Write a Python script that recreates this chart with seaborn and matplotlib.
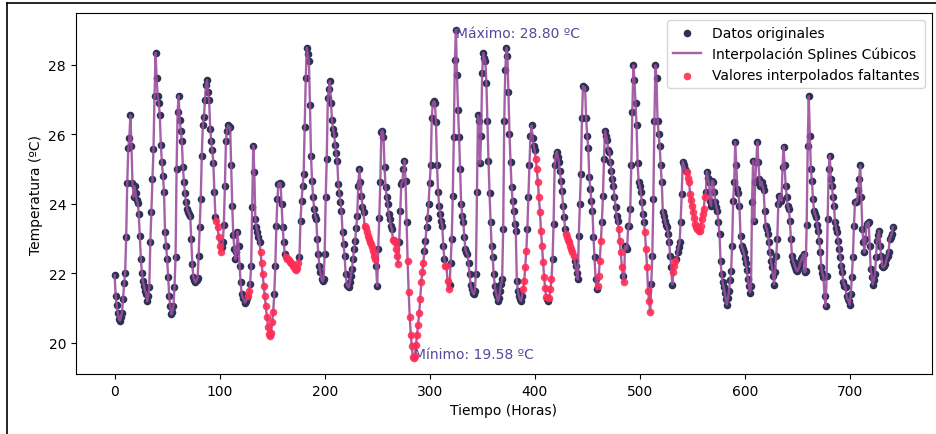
import numpy as np
import pandas as pd
import matplotlib
matplotlib.use("Agg")
import matplotlib.pyplot as plt
from matplotlib.lines import Line2D
import seaborn as sns

# Hourly temperature (ºC), one row per day
temperatura = [
    21.95, 21.34, 21.08, 20.87, 20.70, 20.64, 20.75, 20.87, 21.25, 21.71, 22.00, 23.04, 24.60, 25.60, 25.90, 26.54, 25.67, 24.60, 24.20, 24.50, 24.30, 24.10, 24.03, 23.70,
    23.07, 22.40, 22.00, 21.77, 21.63, 21.50, 21.42, 21.20, 21.35, 21.60, 22.90, 23.77, 24.70, 25.56, 27.10, 28.33, 27.60, 27.10, 26.90, 26.54, 25.70, 25.20, 24.80, 24.35,
    23.20, 22.80, 22.40, 21.90, 21.34, 21.05, 20.82, 20.90, 21.05, 21.60, 22.46, 25.00, 26.65, 27.10, 26.40, 26.10, 25.80, 25.07, 24.63, 24.32, 24.05, 23.85, 23.77, 23.70,
    23.65, 22.98, 22.26, 21.89, 21.80, 21.74, 21.80, 21.86, 22.50, 23.33, 24.14, 25.38, 26.25, 26.48, 26.97, 27.40, 27.55, 27.20, 26.97, 26.16, 25.80, 25.53, 25.18, 24.35,
    23.62, 23.50, 23.33, 23.04, 22.78, 22.60, 22.75, 22.90, 23.40, 24.50, 25.80, 26.10, 26.25, 26.20, 26.20, 25.10, 23.94, 23.10, 22.70, 22.40, 22.60, 23.20, 22.78, 22.20,
    21.74, 21.40, 21.30, 21.25, 21.16, 21.20, 21.30, 21.34, 21.48, 21.70, 22.20, 23.90, 25.67, 24.90, 23.56, 23.33, 23.20, 23.05, 22.90, 22.60, 22.30, 21.97, 21.63, 21.34,
    21.05, 20.76, 20.47, 20.26, 20.20, 20.30, 20.60, 20.90, 21.40, 22.20, 23.36, 24.14, 24.58, 24.60, 24.58, 24.00, 23.33, 22.90, 22.55, 22.46, 22.42, 22.40, 22.37, 22.33,
    22.30, 22.27, 22.22, 22.17, 22.12, 22.10, 22.15, 22.30, 22.46, 23.50, 24.08, 24.50, 24.86, 26.20, 27.60, 28.48, 28.30, 28.10, 26.84, 25.38, 24.66, 24.20, 23.85, 23.65,
    23.56, 22.98, 22.55, 22.20, 22.03, 21.83, 21.77, 21.85, 22.55, 24.20, 25.30, 27.03, 27.30, 27.52, 26.90, 26.40, 26.16, 26.00, 25.70, 25.45, 25.24, 24.58, 24.30, 24.05,
    23.80, 23.20, 22.84, 22.50, 21.97, 21.68, 21.63, 21.60, 21.75, 21.92, 22.12, 22.40, 22.70, 22.93, 23.30, 23.65, 24.52, 25.00, 24.63, 24.23, 23.91, 23.76, 23.36, 23.30,
    23.20, 23.07, 22.98, 22.90, 22.84, 22.75, 22.64, 22.50, 22.40, 22.20, 21.63, 22.70, 23.60, 24.63, 26.07, 26.10, 25.93, 25.07, 24.49, 24.20, 24.00, 23.70, 23.56, 23.36,
    23.27, 22.96, 22.96, 22.90, 22.70, 22.50, 22.27, 22.90, 23.80, 24.58, 24.63, 25.00, 25.24, 24.66, 23.48, 22.35, 21.46, 20.76, 20.24, 19.90, 19.60, 19.58, 19.62, 19.95,
    20.24, 20.53, 20.87, 21.25, 21.74, 22.03, 22.30, 22.64, 22.93, 23.33, 23.60, 24.00, 24.60, 25.10, 26.45, 26.90, 26.94, 26.90, 26.34, 25.10, 24.35, 23.94, 23.71, 23.50,
    23.36, 22.78, 22.40, 22.20, 22.20, 21.77, 21.54, 21.68, 22.30, 22.98, 24.23, 25.93, 28.13, 29.00, 27.70, 26.70, 25.93, 25.00, 24.00, 23.65, 23.48, 23.04, 22.70, 22.60,
    22.55, 22.30, 21.97, 21.68, 21.54, 21.45, 21.40, 21.50, 21.97, 24.35, 26.54, 26.37, 25.16, 25.96, 27.76, 28.33, 28.20, 28.10, 27.47, 26.37, 25.24, 24.30, 23.48, 22.78,
    22.46, 21.97, 21.63, 21.45, 21.34, 21.20, 21.30, 21.50, 21.70, 21.83, 23.27, 26.37, 27.84, 28.48, 28.25, 27.20, 26.00, 25.20, 24.49, 24.08, 23.80, 23.42, 23.22, 21.77,
    21.50, 21.34, 21.25, 21.20, 21.35, 21.54, 21.77, 22.18, 22.64, 23.27, 24.20, 25.10, 25.96, 26.25, 25.90, 25.67, 25.53, 25.30, 25.00, 24.63, 24.20, 23.77, 23.22, 22.78,
    22.32, 21.89, 21.57, 21.31, 21.25, 21.20, 21.30, 21.54, 21.83, 22.40, 23.42, 25.10, 25.38, 25.50, 25.35, 25.20, 24.95, 24.66, 24.37, 23.94, 23.62, 23.27, 23.13, 23.04,
    22.95, 22.90, 22.80, 22.70, 22.60, 22.50, 22.35, 22.20, 22.00, 21.83, 23.07, 24.00, 24.86, 26.45, 27.38, 27.35, 27.32, 26.45, 25.96, 25.60, 24.78, 24.43, 24.08, 23.80,
    23.04, 22.46, 21.83, 21.54, 21.63, 21.92, 22.35, 22.93, 23.48, 24.23, 25.30, 26.10, 25.96, 25.82, 25.53, 25.50, 25.20, 24.95, 24.72, 24.52, 24.20, 23.91, 23.65, 23.50,
    23.27, 22.93, 22.60, 22.18, 21.92, 21.74, 22.78, 22.75, 22.70, 23.36, 23.35, 23.85, 25.10, 26.65, 27.98, 27.55, 26.90, 26.25, 25.16, 24.63, 24.52, 24.35, 24.05, 23.70,
    23.48, 23.18, 22.70, 22.18, 21.48, 21.20, 20.90, 21.70, 22.50, 24.14, 26.37, 27.98, 27.60, 26.37, 26.00, 25.67, 25.10, 24.63, 23.77, 23.65, 23.50, 23.40, 23.33, 23.13,
    22.90, 22.50, 22.18, 21.68, 22.03, 22.20, 22.35, 22.40, 22.60, 22.75, 22.90, 23.48, 24.28, 25.21, 25.10, 25.00, 24.95, 24.92, 24.75, 24.63, 24.28, 24.10, 23.94, 23.75,
    23.60, 23.42, 23.33, 23.27, 23.22, 23.22, 23.35, 23.56, 23.70, 23.85, 24.20, 24.34, 24.92, 24.75, 24.63, 24.08, 23.94, 24.66, 24.63, 24.34, 24.05, 23.90, 23.80, 23.48,
    23.13, 22.35, 21.97, 21.74, 21.60, 21.45, 21.25, 21.10, 21.30, 21.48, 21.80, 22.06, 22.78, 24.08, 24.63, 25.78, 25.10, 24.43, 24.30, 23.94, 23.07, 22.78, 22.70, 22.60,
    22.45, 22.30, 22.10, 21.83, 21.63, 21.45, 21.63, 24.05, 25.24, 23.50, 24.63, 25.20, 25.78, 25.20, 24.72, 24.52, 24.63, 24.50, 24.40, 23.80, 23.36, 23.27, 23.13, 22.90,
    22.60, 22.35, 22.18, 21.92, 21.68, 22.03, 22.50, 22.98, 24.00, 24.23, 24.15, 24.08, 25.07, 25.64, 25.10, 24.52, 24.20, 23.94, 23.85, 23.50, 22.98, 22.50, 22.35, 22.27,
    22.18, 22.10, 22.06, 22.12, 22.18, 22.32, 22.40, 22.46, 22.55, 22.03, 22.06, 23.40, 25.67, 27.09, 25.96, 25.00, 24.66, 24.14, 23.80, 23.70, 23.62, 23.40, 23.22, 22.93,
    22.60, 22.18, 22.00, 21.89, 21.34, 21.05, 21.92, 23.56, 25.00, 25.38, 24.72, 24.52, 24.20, 23.94, 23.48, 23.30, 23.18, 22.93, 22.70, 22.46, 22.20, 22.03, 21.74, 21.65,
    21.60, 21.34, 21.25, 21.20, 21.10, 21.40, 21.89, 22.46, 23.36, 24.05, 24.05, 24.08, 24.40, 24.72, 25.10, 24.20, 23.27, 22.90, 22.60, 23.00, 23.42, 23.45, 23.48, 22.78,
    22.12, 21.90, 21.68, 21.80, 21.97, 22.46, 22.93, 23.10, 23.22, 22.78, 22.50, 22.20, 22.17, 22.20, 22.27, 22.40, 22.50, 22.60, 22.98, 23.05, 23.13, 23.33,
]

# Runs of hours whose value was missing and filled by the spline (first, last)
tramos_faltantes = [
    (97, 101), (127, 128), (139, 151), (163, 175), (238, 248), (265, 270),
    (279, 294), (315, 318), (389, 392), (401, 411), (414, 416), (430, 437),
    (460, 463), (480, 483), (485, 485), (505, 510), (532, 534), (545, 562),
]

etiqueta_max = "Máximo: 28.80 ºC"
etiqueta_min = "Mínimo: 19.58 ºC"
valor_max_etiqueta = 28.80
valor_min_etiqueta = 19.58

horas = np.arange(len(temperatura))
faltante = np.zeros(len(temperatura), dtype=bool)
for a, b in tramos_faltantes:
    faltante[a:b + 1] = True

df = pd.DataFrame({"hora": horas, "temp": temperatura, "faltante": faltante})

fig = plt.figure(figsize=(9.36, 4.35), dpi=100)
ax = fig.add_axes([0.0809, 0.1379, 0.9145, 0.8292])

sns.scatterplot(data=df[~df["faltante"]], x="hora", y="temp", color="#2B3352",
                s=30, linewidth=0, label="Datos originales", ax=ax, zorder=2)
sns.lineplot(data=df, x="hora", y="temp", color="#9B4F9E", linewidth=1.7, alpha=0.9,
             label="Interpolación Splines Cúbicos", ax=ax, zorder=3)
sns.scatterplot(data=df[df["faltante"]], x="hora", y="temp", color="#FF2D55",
                s=30, linewidth=0, alpha=0.9, label="Valores interpolados faltantes",
                ax=ax, zorder=4)

i_max = int(np.argmax(df["temp"]))
i_min = int(np.argmin(df["temp"]))
ax.text(df["hora"][i_max], valor_max_etiqueta, etiqueta_max, color="#56489A",
        fontsize=10, ha="left", va="baseline")
ax.text(df["hora"][i_min], valor_min_etiqueta, etiqueta_min, color="#56489A",
        fontsize=10, ha="left", va="baseline")

ax.set_xlabel("Tiempo (Horas)")
ax.set_ylabel("Temperatura (ºC)")
ax.legend(loc="upper right")

# screenshot-like frame lines
fig.add_artist(Line2D([7 / 936, 7 / 936], [0, 1 - 4 / 435], color="black", lw=1.2))
fig.add_artist(Line2D([7 / 936, 1], [1 - 4 / 435, 1 - 4 / 435], color="black", lw=1.2))

fig.savefig("out.png", dpi=100)
